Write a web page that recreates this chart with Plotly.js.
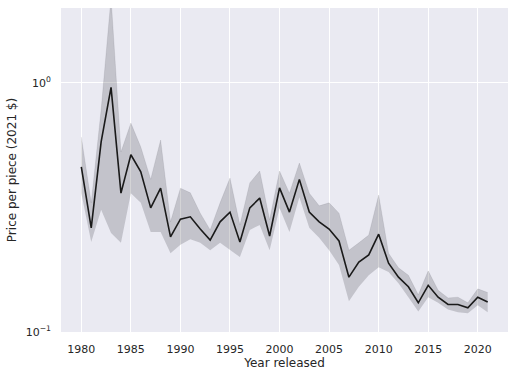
<!DOCTYPE html>
<html>
<head>
<meta charset="utf-8">
<script src="https://cdn.plot.ly/plotly-3.0.1.min.js"></script>
<style>html,body{margin:0;padding:0;background:#fff;}#chart{width:514px;height:377px;}</style>
</head>
<body>
<div id="chart"></div>
<script>
const years = [1980,1981,1982,1983,1984,1985,1986,1987,1988,1989,1990,1991,1992,1993,1994,1995,1996,1997,1998,1999,2000,2001,2002,2003,2004,2005,2006,2007,2008,2009,2010,2011,2012,2013,2014,2015,2016,2017,2018,2019,2020,2021];
const price = [0.46,0.262,0.58,0.96,0.361,0.515,0.44,0.315,0.378,0.241,0.284,0.29,0.259,0.234,0.277,0.303,0.23,0.315,0.345,0.243,0.379,0.303,0.41,0.303,0.277,0.259,0.232,0.166,0.191,0.204,0.247,0.189,0.166,0.152,0.131,0.154,0.138,0.129,0.129,0.125,0.138,0.132];
const upper = [0.607,0.33,0.78,2.2,0.528,0.69,0.553,0.41,0.59,0.277,0.378,0.362,0.30,0.257,0.33,0.415,0.269,0.397,0.443,0.282,0.443,0.361,0.477,0.361,0.321,0.33,0.30,0.213,0.228,0.245,0.355,0.207,0.181,0.169,0.141,0.176,0.147,0.137,0.138,0.131,0.149,0.144];
const lower = [0.361,0.23,0.31,0.25,0.228,0.361,0.33,0.252,0.252,0.207,0.224,0.236,0.228,0.213,0.228,0.213,0.2,0.257,0.269,0.213,0.315,0.252,0.348,0.262,0.239,0.213,0.186,0.133,0.152,0.169,0.182,0.174,0.157,0.138,0.121,0.138,0.131,0.123,0.12,0.119,0.128,0.12];
const yTickVals = [0.1, 1];
const yTickText = ['10<sup>\u22121</sup>', '10<sup>0</sup>'];
const xTickVals = [1980,1985,1990,1995,2000,2005,2010,2015,2020];

const traces = [
  {x: years, y: lower, mode: 'lines', line: {width: 0, color: 'rgba(0,0,0,0)'}, hoverinfo: 'skip', showlegend: false},
  {x: years, y: upper, mode: 'lines', fill: 'tonexty', fillcolor: 'rgba(40,40,50,0.2)', line: {width: 0.6, color: 'rgba(40,40,50,0.15)'}, hoverinfo: 'skip', showlegend: false},
  {x: years, y: price, mode: 'lines', line: {color: '#1a1a1a', width: 1.6}, showlegend: false}
];

const layout = {
  width: 514, height: 377,
  margin: {l: 61, r: 6, t: 8, b: 45},
  paper_bgcolor: '#ffffff',
  plot_bgcolor: '#EAEAF2',
  font: {family: 'DejaVu Sans', size: 11, color: '#262626'},
  showlegend: false,
  xaxis: {
    range: [1977.95, 2023.05],
    tickvals: xTickVals,
    ticktext: xTickVals.map(String),
    showgrid: true, gridcolor: '#ffffff', gridwidth: 1,
    zeroline: false, showline: false, ticks: '',
    ticklabelstandoff: 9,
    tickfont: {size: 11, color: '#262626'},
    title: {text: 'Year released', font: {size: 12, color: '#262626'}, standoff: 3}
  },
  yaxis: {
    type: 'log',
    range: [-1, 0.301],
    tickvals: yTickVals,
    ticktext: yTickText,
    showgrid: true, gridcolor: '#ffffff', gridwidth: 1,
    zeroline: false, showline: false, ticks: '',
    ticklabelstandoff: 9,
    tickfont: {size: 11, color: '#262626'},
    title: {text: 'Price per piece (2021 $)', font: {size: 12, color: '#262626'}, standoff: 6}
  }
};

Plotly.newPlot('chart', traces, layout, {displayModeBar: false, staticPlot: true});
</script>
</body>
</html>
